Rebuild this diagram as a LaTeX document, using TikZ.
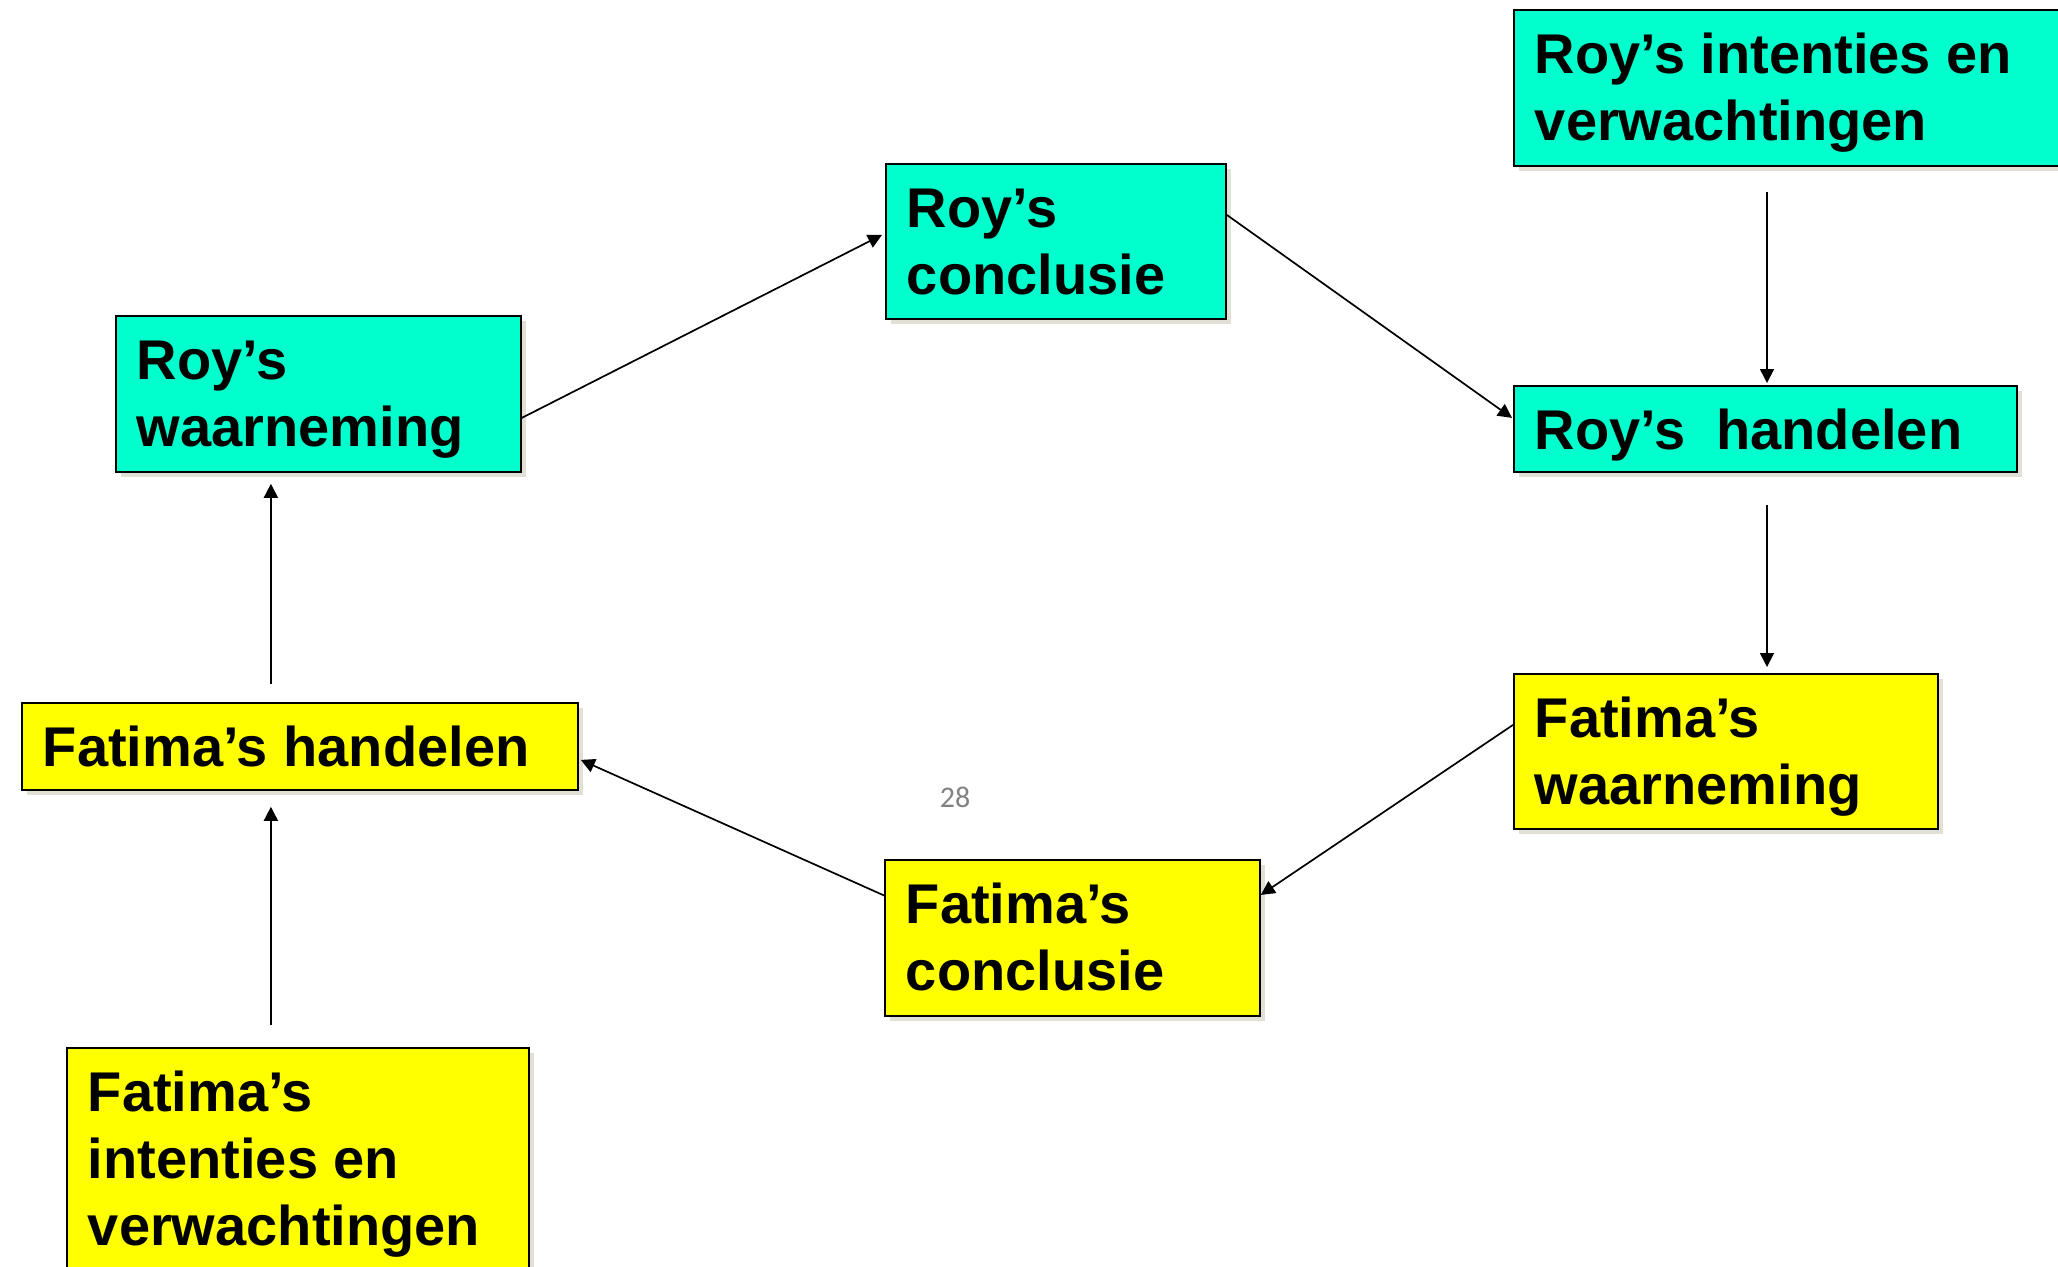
\documentclass[tikz,border=0pt]{standalone}
\usepackage{fontspec}
\setmainfont{Liberation Sans}
\newfontfamily\pagenumfont{Carlito}
\usetikzlibrary{arrows.meta,calc,shadows}

\definecolor{roycyan}{RGB}{0,255,204}
\definecolor{fatyellow}{RGB}{255,255,0}
\definecolor{boxshadow}{RGB}{226,223,213}
\definecolor{pagegrey}{RGB}{130,130,130}

% text block of a card: first baseline 64pt below the top edge
\newcommand\cardtext[3]{\parbox[c][#2][t]{#1}{\raggedright\rule{0pt}{64pt}#3}}

\tikzset{
  card/.style={draw=black, line width=1.8pt, inner xsep=21pt, inner ysep=0pt,
    anchor=north west,
    font=\fontsize{56}{67}\selectfont\bfseries,
    drop shadow={shadow xshift=5pt, shadow yshift=-5pt, fill=boxshadow, draw=none, opacity=1}},
  roy/.style={card, fill=roycyan},
  fatima/.style={card, fill=fatyellow},
  link/.style={line width=1.7pt, -{Triangle[length=14pt,width=14pt]}},
}

\begin{document}
\begin{tikzpicture}[x=1pt, y=-1pt]
  \fill[white] (0,0) rectangle (2058,1266);
  \useasboundingbox (0,0) rectangle (2058,1266);

  % Roy's side
  \node[roy] (rw) at (115,315)  {\cardtext{363pt}{156pt}{Roy’s\\waarneming}};
  \node[roy] (rc) at (885,163)  {\cardtext{298pt}{155pt}{Roy’s\\conclusie}};
  \node[roy] (ri) at (1513,9)   {\cardtext{518pt}{156pt}{Roy’s intenties en\\verwachtingen}};
  \node[roy] (rh) at (1513,385) {\cardtext{461pt}{86pt}{Roy’s\ \ handelen}};

  % Fatima's side
  \node[fatima] (fw) at (1513,673) {\cardtext{382pt}{155pt}{Fatima’s\\waarneming}};
  \node[fatima] (fc) at (884,859)  {\cardtext{333pt}{156pt}{Fatima’s\\conclusie}};
  \node[fatima] (fh) at (21,702)   {\cardtext{514pt}{87pt}{Fatima’s handelen}};
  \node[fatima] (fi) at (66,1047)  {\cardtext{420pt}{240pt}{Fatima’s\\intenties en\\verwachtingen}};

  % page number
  \node[text=pagegrey, font=\pagenumfont\fontsize{30}{36}\selectfont] (pg) at (955,797) {28};

  % the cycle of links
  \draw[link] ($(fh.north)+(-29,-18)$) -- ($(rw.south)+(-47.5,11)$);
  \draw[link] ($(rw.east)+(0,24)$) -- ($(rc.west)+(-3,-6.5)$);
  \draw[link] ($(rc.east)+(0,-26.5)$) -- ($(rh.west)+(-1,-11)$);
  \draw[link] ($(ri.south west)+(254,25)$) -- ($(rh.north west)+(254,-2)$);
  \draw[link] ($(rh.south west)+(254,32)$) -- ($(fw.north west)+(254,-6)$);
  \draw[link] ($(fw.west)+(0,-26.5)$) -- ($(fc.east)+(0,-43)$);
  \draw[link] ($(fc.west)+(1,-42)$) -- ($(fh.east)+(2,13.5)$);
  \draw[link] ($(fi.north)+(-27,-22)$) -- ($(fh.south)+(-29,16)$);
\end{tikzpicture}
\end{document}
